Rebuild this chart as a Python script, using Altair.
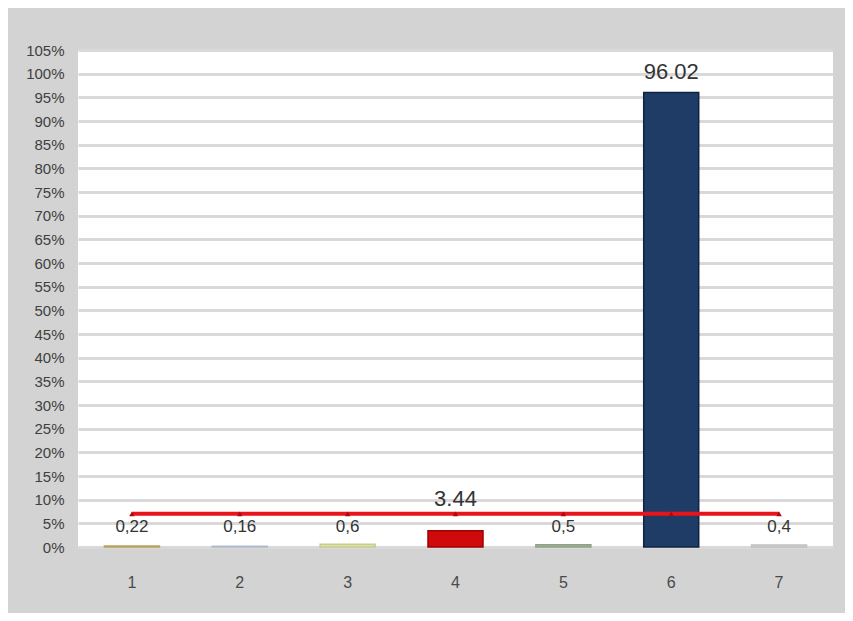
import altair as alt
import pandas as pd

categories = ["1", "2", "3", "4", "5", "6", "7"]
bar_values = [0.22, 0.16, 0.6, 3.44, 0.5, 96.02, 0.4]
line_values = [7, 7, 7, 7, 7, 7, 7]
small_labels = ["0,22", "0,16", "0,6", "", "0,5", "", "0,4"]
big_labels = ["", "", "", "3.44", "", "96.02", ""]
bar_colors = ["#cdb877", "#c9d3e0", "#dfe3a8", "#d00a0a", "#a9b89e", "#1f3c66", "#d8d8d8"]
bar_strokes = ["#b8a460", "#b0bccc", "#c8cc90", "#a00000", "#90a088", "#0f2440", "#c0c0c0"]
y_ticks = list(range(0, 106, 5))

df = pd.DataFrame({
    "cat": categories,
    "value": bar_values,
    "line": line_values,
    "small": small_labels,
    "big": big_labels,
})

FONT = "Liberation Sans"

x_axis = alt.Axis(
    title=None, labelAngle=0, ticks=False, domain=False,
    labelPadding=27, labelFontSize=16, labelColor="#4a4a4a", labelFont=FONT,
    grid=False,
)
y_axis = alt.Axis(
    title=None, values=y_ticks, labelExpr="datum.value + '%'",
    ticks=False, domain=False, labelPadding=14, labelOverlap=False,
    labelFontSize=15, labelColor="#404040", labelFont=FONT,
    gridColor="#d9d9d9", gridWidth=3,
)
x_scale = alt.Scale(paddingInner=0.49, paddingOuter=0.245)
y_scale = alt.Scale(domain=[0, 105], nice=False)


def X():
    return alt.X("cat:N", sort=categories, scale=x_scale, axis=x_axis)


def Y(field):
    return alt.Y(field + ":Q", scale=y_scale, axis=y_axis)


bars = alt.Chart(df).mark_bar(strokeWidth=1.5).encode(
    x=X(),
    y=Y("value"),
    color=alt.Color("cat:N", scale=alt.Scale(domain=categories, range=bar_colors), legend=None),
    stroke=alt.Color("cat:N", scale=alt.Scale(domain=categories, range=bar_strokes), legend=None),
)

line = alt.Chart(df).mark_line(
    color="#e8141c", strokeWidth=4,
    point=alt.OverlayMarkDef(shape="triangle-up", size=30, color="#a80c10", filled=True),
).encode(x=X(), y=Y("line"))

small_text = alt.Chart(df).mark_text(
    dy=13, fontSize=17, color="#333333", font=FONT
).encode(x=X(), y=Y("line"), text="small:N")

big_text_bar = alt.Chart(df).transform_filter(
    "datum.value > datum.line"
).mark_text(
    dy=-21, fontSize=22, color="#333333", font=FONT
).encode(x=X(), y=Y("value"), text="big:N")

big_text_line = alt.Chart(df).transform_filter(
    "datum.value <= datum.line"
).mark_text(
    dy=-3, baseline="bottom", fontSize=22, color="#333333", font=FONT
).encode(x=X(), y=Y("line"), text="big:N")

chart = alt.layer(bars, line, small_text, big_text_bar, big_text_line).properties(
    width=755,
    height=497,
    padding={"left": 70, "top": 42, "right": 12, "bottom": 66},
    autosize=alt.AutoSizeParams(type="none"),
    background="#d3d3d3",
).configure_view(fill="white", stroke=None)

chart.save("out.html", embed_options={"renderer": "svg", "actions": False})
